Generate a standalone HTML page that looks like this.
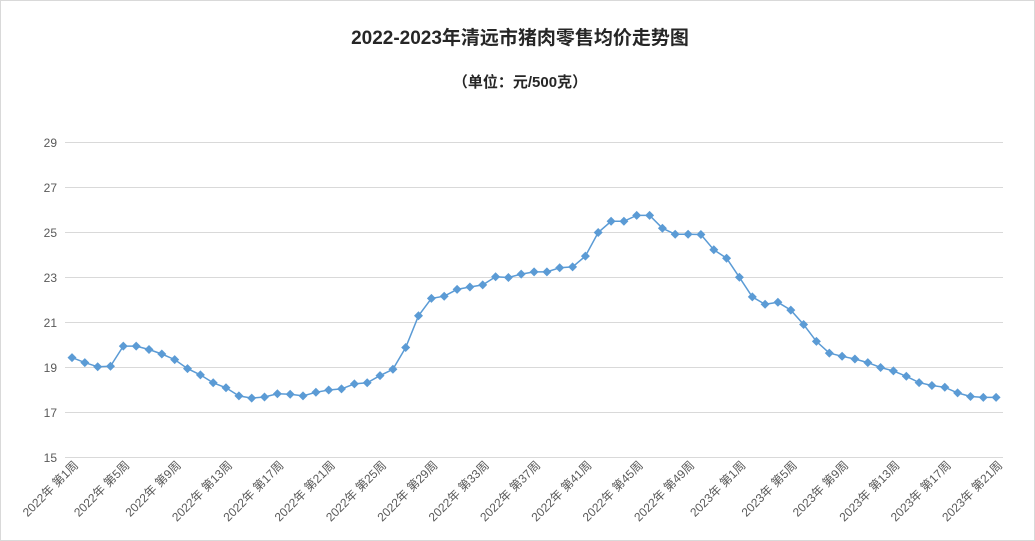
<!DOCTYPE html>
<html><head><meta charset="utf-8"><style>
body{margin:0;background:#fff;}
svg{display:block;font-family:"Liberation Sans","Noto Sans CJK SC",sans-serif;}
</style></head><body>
<svg width="1035" height="541" viewBox="0 0 1035 541" xmlns="http://www.w3.org/2000/svg">
<defs>
<marker id="d" markerWidth="10" markerHeight="10" refX="5" refY="5" markerUnits="userSpaceOnUse">
<polygon points="5,0.5 9.5,5 5,9.5 0.5,5" fill="#5b9bd5"/>
</marker>
</defs>
<rect x="0.5" y="0.5" width="1034" height="540" fill="#fff" stroke="#d9d9d9"/>
<text x="520" y="44" text-anchor="middle" font-size="19" font-weight="bold" fill="#262626">2022-2023年清远市猪肉零售均价走势图</text>
<text x="520" y="87" text-anchor="middle" font-size="15" font-weight="bold" fill="#262626">（单位：元/500克）</text>
<g stroke="#d9d9d9" stroke-width="1">
<line x1="65" x2="1003" y1="142.5" y2="142.5"/><line x1="65" x2="1003" y1="187.5" y2="187.5"/>
<line x1="65" x2="1003" y1="232.5" y2="232.5"/><line x1="65" x2="1003" y1="277.5" y2="277.5"/>
<line x1="65" x2="1003" y1="322.5" y2="322.5"/><line x1="65" x2="1003" y1="367.5" y2="367.5"/>
<line x1="65" x2="1003" y1="412.5" y2="412.5"/><line x1="65" x2="1003" y1="457.5" y2="457.5"/>
</g>
<g font-size="12" fill="#595959" text-anchor="end">
<text x="57" y="147">29</text><text x="57" y="192">27</text><text x="57" y="237">25</text><text x="57" y="282">23</text>
<text x="57" y="327">21</text><text x="57" y="372">19</text><text x="57" y="417">17</text><text x="57" y="462">15</text>
</g>
<g font-size="12" fill="#595959" text-anchor="end">
<text transform="translate(79,466) rotate(-45)">2022年 第1周</text>
<text transform="translate(130.3,466) rotate(-45)">2022年 第5周</text>
<text transform="translate(181.7,466) rotate(-45)">2022年 第9周</text>
<text transform="translate(233,466) rotate(-45)">2022年 第13周</text>
<text transform="translate(284.4,466) rotate(-45)">2022年 第17周</text>
<text transform="translate(335.7,466) rotate(-45)">2022年 第21周</text>
<text transform="translate(387,466) rotate(-45)">2022年 第25周</text>
<text transform="translate(438.4,466) rotate(-45)">2022年 第29周</text>
<text transform="translate(489.7,466) rotate(-45)">2022年 第33周</text>
<text transform="translate(541.1,466) rotate(-45)">2022年 第37周</text>
<text transform="translate(592.4,466) rotate(-45)">2022年 第41周</text>
<text transform="translate(643.7,466) rotate(-45)">2022年 第45周</text>
<text transform="translate(695.1,466) rotate(-45)">2022年 第49周</text>
<text transform="translate(746.4,466) rotate(-45)">2023年 第1周</text>
<text transform="translate(797.8,466) rotate(-45)">2023年 第5周</text>
<text transform="translate(849.1,466) rotate(-45)">2023年 第9周</text>
<text transform="translate(900.4,466) rotate(-45)">2023年 第13周</text>
<text transform="translate(951.8,466) rotate(-45)">2023年 第17周</text>
<text transform="translate(1003.1,466) rotate(-45)">2023年 第21周</text>
</g>
<polyline fill="none" stroke="#5b9bd5" stroke-width="1.5" marker-start="url(#d)" marker-mid="url(#d)" marker-end="url(#d)" points="72,357.6 84.8,362.6 97.7,366.8 110.5,366.2 123.3,346.1 136.2,346.1 149,349.5 161.8,354 174.7,359.6 187.5,368.6 200.4,374.9 213.2,382.8 226,387.8 238.9,395.9 251.7,398.1 264.5,397 277.4,393.8 290.2,394.3 303,395.9 315.9,392.3 328.7,390 341.5,388.9 354.4,383.9 367.2,382.8 380,375.6 392.9,369.3 405.7,347.5 418.5,315.8 431.4,298.4 444.2,296.2 457.1,289.4 469.9,287 482.7,284.9 495.6,276.8 508.4,277.5 521.2,274.1 534.1,271.9 546.9,271.9 559.7,267.8 572.6,266.9 585.4,256.1 598.2,232.5 611.1,221.3 623.9,221.3 636.7,215.4 649.6,215.4 662.4,228.2 675.2,234.3 688.1,234.3 700.9,234.5 713.8,249.8 726.6,258.2 739.4,277.3 752.3,296.9 765.1,304.3 777.9,302.3 790.8,310.1 803.6,324.5 816.4,341.4 829.3,353.1 842.1,356.3 854.9,359 867.8,362.6 880.6,367.5 893.4,370.9 906.3,376.3 919.1,382.6 931.9,385.5 944.8,387.3 957.6,392.9 970.5,396.5 983.3,397.4 996.1,397.4"/>
</svg>
</body></html>
